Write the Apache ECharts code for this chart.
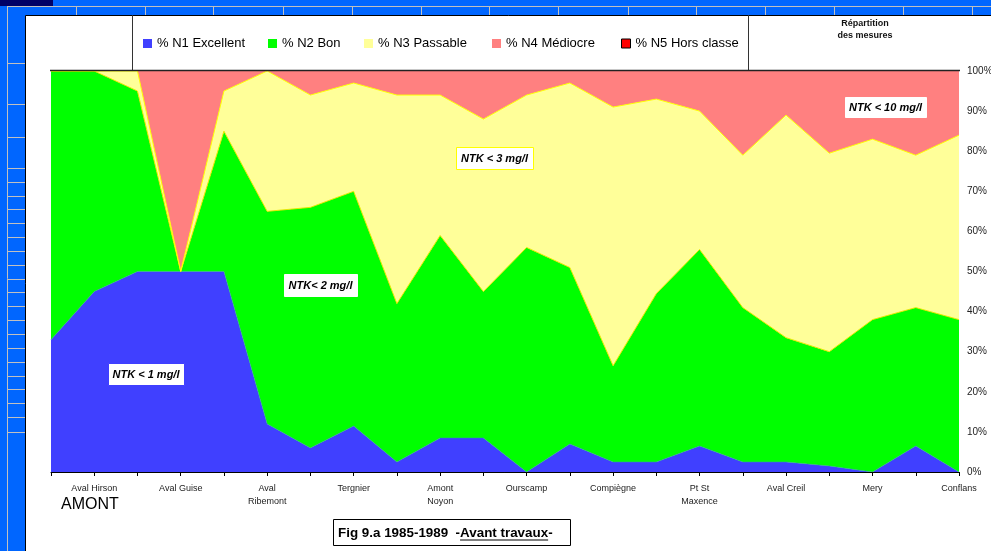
<!DOCTYPE html>
<html>
<head>
<meta charset="utf-8">
<script src="https://cdn.jsdelivr.net/npm/echarts@6/dist/echarts.min.js"></script>
<style>
html, body { margin: 0; padding: 0; background: #0066ff; }
#chart { width: 991px; height: 551px; }
</style>
</head>
<body>
<div id="chart"></div>
<script>
// stations (labels on every other point)
var stations = ['', 'Aval Hirson', '', 'Aval Guise', '', 'Aval\nRibemont', '', 'Tergnier', '', 'Amont\nNoyon', '',
    'Ourscamp', '', 'Compiègne', '', 'Pt St\nMaxence', '', 'Aval Creil', '', 'Mery', '', 'Conflans'];
// % of measures per class
var n1 = [33, 45, 50, 50, 50, 12, 6, 11.5, 2.5, 8.5, 8.5, 0, 7, 2.5, 2.5, 6.5, 2.5, 2.5, 1.5, 0, 6.5, 0];
var n2 = [67, 55, 45, 0, 35, 53, 60, 58.5, 39.5, 50.5, 36.5, 56, 44, 24, 42, 49, 38.5, 31, 28.5, 38, 34.5, 38];
var n3 = [0, 0, 5, 0, 10, 35, 28, 27, 52, 35, 43, 38, 46, 64.5, 48.5, 34.5, 38, 55.5, 49.5, 45, 38, 46];
var n4 = [0, 0, 0, 50, 5, 0, 6, 3, 6, 6, 12, 6, 3, 9, 7, 10, 21, 11, 20.5, 17, 21, 16];
var n5 = [0, 0, 0, 0, 0, 0, 0, 0, 0, 0, 0, 0, 0, 0, 0, 0, 0, 0, 0, 0, 0, 0];
var classes = ['% N1 Excellent', '% N2 Bon', '% N3 Passable', '% N4 Médiocre', '% N5 Hors classe'];

var FONT = 'Arial, "Liberation Sans", sans-serif';
var chart = echarts.init(document.getElementById('chart'));

// légende de la figure (partie soulignée)
var CAP_FONT = 'bold 13.4px ' + FONT;
var ctx = document.createElement('canvas').getContext('2d');
ctx.font = CAP_FONT;
var cap1 = 'Fig 9.a 1985-1989  -', cap2 = 'Avant travaux', cap3 = '-';
var w1 = ctx.measureText(cap1).width, w2 = ctx.measureText(cap2).width;
var capX = 338, capY = 533;

// décor feuille excel
var deco = [];
deco.push({type: 'rect', shape: {x: 0, y: 0, width: 53, height: 6}, style: {fill: '#000066'}});
deco.push({type: 'line', shape: {x1: 7, y1: 6.5, x2: 991, y2: 6.5}, style: {stroke: '#c0c0c0', lineWidth: 1}});
deco.push({type: 'line', shape: {x1: 7.5, y1: 6, x2: 7.5, y2: 551}, style: {stroke: '#c0c0c0', lineWidth: 1}});
[63, 104, 137, 168, 182, 196, 209, 223, 237, 251, 265, 279, 292, 306, 320, 334, 348, 362, 376, 389, 403, 417, 432].forEach(function (y) {
    deco.push({type: 'line', shape: {x1: 7, y1: y + 0.5, x2: 25, y2: y + 0.5}, style: {stroke: '#c0c0c0', lineWidth: 1}});
});
[76, 145, 213, 283, 352, 421, 489, 558, 628, 696, 765, 834, 903, 972].forEach(function (x) {
    deco.push({type: 'line', shape: {x1: x + 0.5, y1: 6, x2: x + 0.5, y2: 15}, style: {stroke: '#c0c0c0', lineWidth: 1}});
});
deco.push({type: 'rect', shape: {x: 25.5, y: 15.5, width: 970, height: 540}, style: {fill: '#ffffff', stroke: '#000', lineWidth: 1}});
deco.forEach(function (e) { e.z = -10; });

// boîte légende, bord haut du graphe, textes
var overlay = [
    {type: 'line', shape: {x1: 132.5, y1: 15, x2: 132.5, y2: 70}, style: {stroke: '#333', lineWidth: 1}},
    {type: 'line', shape: {x1: 748.5, y1: 15, x2: 748.5, y2: 70}, style: {stroke: '#333', lineWidth: 1}},
    {type: 'line', shape: {x1: 50, y1: 70.5, x2: 960, y2: 70.5}, style: {stroke: '#222', lineWidth: 1.5}},
    {type: 'text', x: 865, y: 24, style: {text: 'Répartition', font: 'bold 9px ' + FONT, fill: '#111', textAlign: 'center', textVerticalAlign: 'middle'}},
    {type: 'text', x: 865, y: 36, style: {text: 'des mesures', font: 'bold 9px ' + FONT, fill: '#111', textAlign: 'center', textVerticalAlign: 'middle'}},
    {type: 'text', x: 90, y: 505, style: {text: 'AMONT', font: '16px ' + FONT, fill: '#000', textAlign: 'center', textVerticalAlign: 'middle'}},
    {type: 'rect', shape: {x: 333.5, y: 519.5, width: 237, height: 26}, style: {fill: '#fff', stroke: '#000', lineWidth: 1}},
    {type: 'text', x: capX, y: capY, style: {text: cap1 + cap2 + cap3, font: CAP_FONT, fill: '#000', textVerticalAlign: 'middle'}},
    {type: 'line', shape: {x1: capX + w1, y1: capY + 7, x2: capX + w1 + w2, y2: capY + 7}, style: {stroke: '#000', lineWidth: 1}}
];

// étiquettes NTK
function tag(x, y, w, h, txt, border) {
    return [
        {type: 'rect', shape: {x: x + 0.5, y: y + 0.5, width: w, height: h}, style: {fill: '#fff', stroke: border, lineWidth: 1}},
        {type: 'text', x: x + w / 2, y: y + h / 2 + 0.5, style: {text: txt, font: 'italic bold 11px ' + FONT, fill: '#000', textAlign: 'center', textVerticalAlign: 'middle'}}
    ];
}
var tags = [].concat(
    tag(108, 363, 76, 22, 'NTK < 1 mg/l', '#3f3fff'),
    tag(284, 274, 73, 22, 'NTK< 2 mg/l', '#ffffff'),
    tag(456, 147, 77, 22, 'NTK < 3 mg/l', '#ffff00'),
    tag(845, 97, 81, 20, 'NTK < 10 mg/l', '#ffffff')
);
overlay.concat(tags).forEach(function (e) { e.z = 100; });

// une légende par classe, placée comme dans l'original
var legendLeft = [143, 268, 364, 492, 621];
var legends = classes.map(function (name, i) {
    var item = {name: name};
    if (i === 4) item.itemStyle = {borderColor: '#000', borderWidth: 1};
    return {
        left: legendLeft[i], top: 37, padding: 0,
        icon: 'rect', itemWidth: 9, itemHeight: 9,
        textStyle: {fontSize: 13, color: '#000', fontFamily: FONT},
        data: [item], selectedMode: false
    };
});

function areaSeries(name, data, color, lineColor, lineWidth) {
    return {
        name: name, type: 'line', stack: 'total', data: data,
        symbol: 'none', smooth: false,
        itemStyle: {color: color},
        lineStyle: {color: lineColor, width: lineWidth},
        areaStyle: {color: color, opacity: 1},
        emphasis: {disabled: true}
    };
}

chart.setOption({
    animation: false,
    backgroundColor: '#0066ff',
    textStyle: {fontFamily: FONT},
    graphic: deco.concat(overlay, tags),
    legend: legends,
    grid: {left: 51, right: 32, top: 71, bottom: 79, containLabel: false, outerBoundsMode: 'none'},
    xAxis: {
        type: 'category', boundaryGap: false, data: stations,
        axisLine: {lineStyle: {color: '#000', width: 1}},
        axisTick: {show: true, interval: 0, length: 4, lineStyle: {color: '#000'}},
        axisLabel: {interval: 0, fontSize: 9, color: '#222', margin: 10, lineHeight: 13, fontFamily: FONT},
        z: 20
    },
    yAxis: {
        type: 'value', position: 'right', min: 0, max: 100, interval: 10,
        axisLine: {show: false}, axisTick: {show: false}, splitLine: {show: false},
        axisLabel: {formatter: '{value}%', fontSize: 10, color: '#222', margin: 8, fontFamily: FONT}
    },
    series: [
        areaSeries(classes[0], n1, '#4040ff', '#30a0a0', 0.6),
        areaSeries(classes[1], n2, '#00ff00', '#e8e800', 1),
        areaSeries(classes[2], n3, '#ffff99', '#ffff00', 1),
        areaSeries(classes[3], n4, '#ff8080', '#ff8080', 0),
        areaSeries(classes[4], n5, '#ff0000', '#ff0000', 0)
    ]
});
</script>
</body>
</html>
